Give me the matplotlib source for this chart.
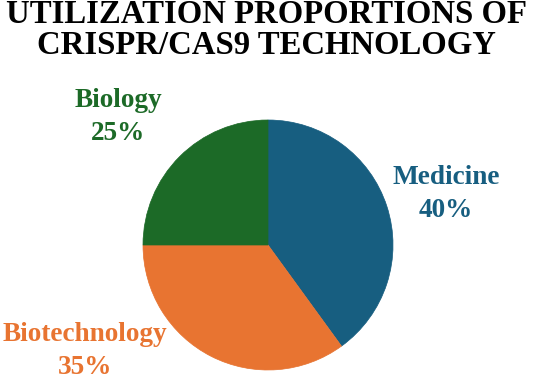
import matplotlib.pyplot as plt
import matplotlib.patheffects as pe

# data
labels = ["Medicine", "Biotechnology", "Biology"]
shares = [40, 35, 25]
colors = ["#175e80", "#e87431", "#1c6a27"]
label_pos = [(446, 194), (85, 351), (118, 117)]

W, H = 533, 382
fig = plt.figure(figsize=(W / 100, H / 100), dpi=100)
ax = fig.add_axes([0, 0, 1, 1])

wedges, _ = ax.pie(shares, colors=colors, startangle=90, counterclock=False,
                   center=(268, H - 245), radius=125, frame=True,
                   wedgeprops=dict(linewidth=0.5))
for w, c in zip(wedges, colors):
    w.set_edgecolor(c)
    w.set_path_effects([pe.SimplePatchShadow(offset=(0, 0), shadow_rgbFace="#d0d0d0", alpha=0.5),
                        pe.Normal()])

ax.set_xlim(0, W)
ax.set_ylim(0, H)
ax.set_aspect("equal")
ax.axis("off")

font = "Liberation Serif"
ax.text(W / 2, H - 30, "UTILIZATION PROPORTIONS OF\nCRISPR/CAS9 TECHNOLOGY",
        ha="center", va="center", fontsize=23.6, fontweight="bold",
        family=font, linespacing=1.0, color="black")

for lab, val, col, (x, y) in zip(labels, shares, colors, label_pos):
    ax.text(x, H - y, f"{lab}\n{val}%", ha="center", va="center", fontsize=19.6,
            fontweight="bold", family=font, color=col, linespacing=1.4)

fig.savefig("out.png", dpi=100)
